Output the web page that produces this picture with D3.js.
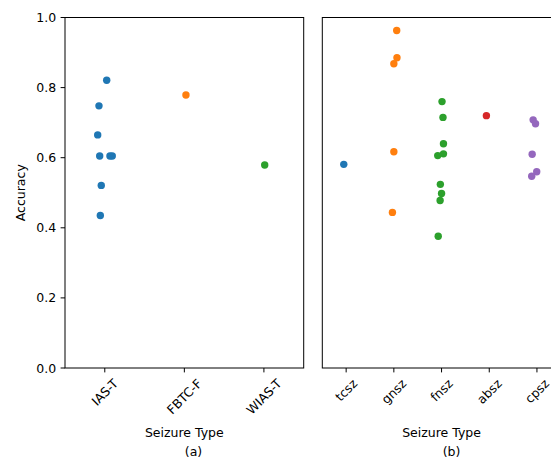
<!DOCTYPE html>
<html>
<head>
<meta charset="utf-8">
<script src="https://cdn.jsdelivr.net/npm/d3@7"></script>
<style>
  html, body { margin: 0; padding: 0; background: #fff; }
  svg { display: block; }
  text { font-family: "DejaVu Sans", sans-serif; fill: #000; }
</style>
</head>
<body>
<script>
// ---------- data ----------
const catsA = ["IAS-T", "FBTC-F", "WIAS-T"];
const valuesA = {
  "IAS-T": [0.821, 0.748, 0.665, 0.605, 0.605, 0.605, 0.521, 0.435],
  "FBTC-F": [0.779],
  "WIAS-T": [0.579]
};
// horizontal jitter (in category units)
const jitterA = {
  "IAS-T": [0.024, -0.073, -0.089, -0.064, 0.065, 0.094, -0.044, -0.056],
  "FBTC-F": [0.02],
  "WIAS-T": [0.01]
};

const catsB = ["tcsz", "gnsz", "fnsz", "absz", "cpsz"];
const valuesB = {
  "tcsz": [0.581],
  "gnsz": [0.963, 0.885, 0.868, 0.617, 0.444],
  "fnsz": [0.760, 0.715, 0.640, 0.606, 0.611, 0.524, 0.498, 0.478, 0.376],
  "absz": [0.720],
  "cpsz": [0.708, 0.697, 0.610, 0.560, 0.547]
};
const jitterB = {
  "tcsz": [-0.05],
  "gnsz": [0.06, 0.065, 0.0, 0.0, -0.03],
  "fnsz": [0.01, 0.03, 0.04, -0.08, 0.04, -0.025, 0.0, -0.03, -0.07],
  "absz": [-0.06],
  "cpsz": [-0.08, -0.03, -0.1, -0.005, -0.11]
};
const yTicks = [0.0, 0.2, 0.4, 0.6, 0.8, 1.0];
const palette = ["#1f77b4", "#ff7f0e", "#2ca02c", "#d62728", "#9467bd"];

// ---------- layout ----------
const W = 551, H = 459;
const FS = 12.5;
const plotTop = 17.5, plotBottom = 368;
const panelA = { x0: 65, x1: 303.7 };
const panelB = { x0: 322.3, x1: 322.3 + 238.5 };
const tickLen = 4.4, pad = 4.4;

const svg = d3.select("body").append("svg").attr("width", W).attr("height", H);

const y = d3.scaleLinear().domain([0, 1]).range([plotBottom, plotTop]);

function panel(p, cats, values, jitter, showY, caption, captionX) {
  const g = svg.append("g");
  const x = d3.scaleLinear().domain([-0.5, cats.length - 0.5]).range([p.x0, p.x1]);

  // points
  cats.forEach((c, i) => {
    const pts = values[c].map((v, k) => ({ v, j: jitter[c][k] }));
    g.selectAll(null).data(pts).enter().append("circle")
      .attr("cx", d => x(i + d.j))
      .attr("cy", d => y(d.v))
      .attr("r", 3.7)
      .attr("fill", palette[i % palette.length]);
  });

  // frame
  g.append("rect").attr("x", p.x0).attr("y", plotTop)
    .attr("width", p.x1 - p.x0).attr("height", plotBottom - plotTop)
    .attr("fill", "none").attr("stroke", "#000").attr("stroke-width", 1);

  // x ticks
  cats.forEach((c, i) => {
    const cx = x(i);
    g.append("line").attr("x1", cx).attr("x2", cx)
      .attr("y1", plotBottom).attr("y2", plotBottom + tickLen)
      .attr("stroke", "#000").attr("stroke-width", 1);
    const t = g.append("text").text(c)
      .attr("font-size", FS)
      .attr("text-anchor", "middle")
      .attr("dominant-baseline", "central");
    const w = t.node().getComputedTextLength();
    const h = FS * 1.0;
    const bh = (w + h) / Math.SQRT2;
    const cy = plotBottom + tickLen + pad + bh / 2;
    t.attr("transform", `translate(${cx},${cy}) rotate(-45)`);
  });

  // y axis
  if (showY) {
    yTicks.forEach(v => {
      g.append("line").attr("x1", p.x0 - tickLen).attr("x2", p.x0)
        .attr("y1", y(v)).attr("y2", y(v))
        .attr("stroke", "#000").attr("stroke-width", 1);
      g.append("text").text(d3.format(".1f")(v))
        .attr("x", p.x0 - tickLen - pad)
        .attr("y", y(v))
        .attr("font-size", FS)
        .attr("text-anchor", "end")
        .attr("dominant-baseline", "central");
    });
    g.append("text").text("Accuracy")
      .attr("font-size", FS)
      .attr("text-anchor", "middle")
      .attr("dominant-baseline", "central")
      .attr("transform", `translate(20,${(plotTop + plotBottom) / 2}) rotate(-90)`);
  }

  // x label + caption
  g.append("text").text("Seizure Type")
    .attr("x", (p.x0 + p.x1) / 2)
    .attr("y", 432)
    .attr("font-size", FS)
    .attr("text-anchor", "middle")
    .attr("dominant-baseline", "central");
  g.append("text").text(caption)
    .attr("x", captionX)
    .attr("y", 451)
    .attr("font-size", FS)
    .attr("text-anchor", "middle")
    .attr("dominant-baseline", "central");
}

panel(panelA, catsA, valuesA, jitterA, true, "(a)", 193.5);
panel(panelB, catsB, valuesB, jitterB, false, "(b)", 451.5);
</script>
</body>
</html>
